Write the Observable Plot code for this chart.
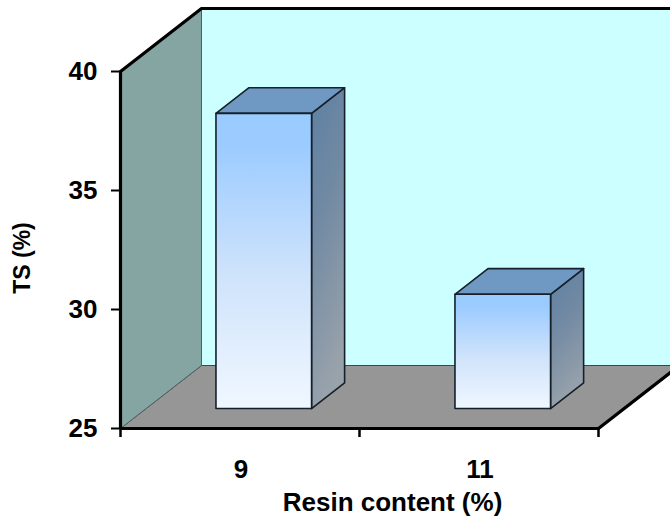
<!DOCTYPE html>
<html>
<head>
<meta charset="utf-8">
<style>html,body{margin:0;padding:0;background:#fff}svg{display:block}</style>
<script src="https://cdn.jsdelivr.net/npm/d3@7"></script>
<script src="https://cdn.jsdelivr.net/npm/@observablehq/plot@0.6"></script>
</head>
<body>
<div id="chart"></div>
<script>
const categories = ["9", "11"];
const tsValues = [37.4, 29.8];
const yTicks = [25, 30, 35, 40];
const xBoundaries = [0, 1, 2];
const barInset = [0.292, 0.692];
const barDepth = [0.317, 0.725];
const yLabel = "TS (%)";
const xLabel = "Resin content (%)";

const depthX = 81 / 239;      // one unit of depth, in category units
const depthY = 63 / 23.8;     // one unit of depth, in % units
const font = "'Liberation Sans', Arial, sans-serif";

const P = (c, v, d = 0) => ({x: c + d * depthX, y: v + d * depthY});
const poly = (...pts) => [...pts, pts[0]];

const backWall = poly(P(0, 25, 1), P(2, 25, 1), P(2, 40, 1), P(0, 40, 1));
const sideWall = poly(P(0, 25, 0), P(0, 25, 1), P(0, 40, 1), P(0, 40, 0));
const floor = poly(P(0, 25, 0), P(2, 25, 0), P(2, 25, 1), P(0, 25, 1));

const face = (o) => ({curve: "linear", x: "x", y: "y", ...o});
const barMarks = tsValues.flatMap((v, i) => {
  const l = i + barInset[0], r = i + barInset[1], f = barDepth[0], b = barDepth[1];
  const front = poly(P(l, 25, f), P(r, 25, f), P(r, v, f), P(l, v, f));
  const side = poly(P(r, 25, f), P(r, 25, b), P(r, v, b), P(r, v, f));
  const top = poly(P(l, v, f), P(r, v, f), P(r, v, b), P(l, v, b));
  return [
    Plot.line(side, face({fill: `url(#side${i})`, stroke: "#15202a", strokeWidth: 1.6})),
    Plot.line(top, face({fill: "#6f99c2", stroke: "#15202a", strokeWidth: 1.6})),
    Plot.line(front, face({fill: `url(#front${i})`, stroke: "#15202a", strokeWidth: 1.6}))
  ];
});

const defs = () => {
  const ns = "http://www.w3.org/2000/svg";
  const d = document.createElementNS(ns, "defs");
  const grad = (id, x2, y2, stops) => {
    const g = document.createElementNS(ns, "linearGradient");
    g.setAttribute("id", id);
    g.setAttribute("x1", "0"); g.setAttribute("y1", "0");
    g.setAttribute("x2", x2); g.setAttribute("y2", y2);
    stops.forEach(([o, c]) => {
      const s = document.createElementNS(ns, "stop");
      s.setAttribute("offset", o); s.setAttribute("stop-color", c);
      g.appendChild(s);
    });
    d.appendChild(g);
  };
  tsValues.forEach((_, i) => {
    grad(`front${i}`, "0", "1", [[0, "#99ccff"], [0.1, "#9bcbff"], [0.55, "#cfe3fb"], [1, "#f0f7ff"]]);
    grad(`side${i}`, "0.25", "1", [[0, "#5d80a3"], [0.45, "#728aa3"], [1, "#98a2ab"]]);
  });
  return d;
};

const tickStyle = {fontFamily: font, fontWeight: "bold", fill: "#000"};

const chart = Plot.plot({
  width: 670,
  height: 519,
  marginLeft: 120,
  marginRight: 72,
  marginTop: 71,
  marginBottom: 91,
  style: {background: "#fff", fontFamily: font},
  x: {type: "linear", domain: [0, 2]},
  y: {type: "linear", domain: [25, 40]},
  marks: [
    defs,
    Plot.line(backWall, face({fill: "#ccffff", stroke: "#555", strokeWidth: 1})),
    Plot.line(floor, face({fill: "#969696", stroke: "#444", strokeWidth: 1})),
    Plot.line(sideWall, face({fill: "#85a5a3", stroke: "#4c5f5e", strokeWidth: 1})),
    Plot.line([P(0, 40, 0), P(0, 40, 1), P(2, 40, 1)], face({stroke: "#000", strokeWidth: 3.2})),
    Plot.line([P(2, 25, 0), P(2, 25, 1)], face({stroke: "#000", strokeWidth: 3.2})),
    ...barMarks,
    Plot.ruleX([0], {y1: 25, y2: 40, stroke: "#000", strokeWidth: 3.2}),
    Plot.ruleY([25], {x1: 0, x2: 2, stroke: "#000", strokeWidth: 3.2}),
    Plot.axisY({ticks: yTicks, tickSize: 9, tickPadding: 14, strokeWidth: 2, stroke: "#000", label: null,
      fontSize: 26, ...tickStyle, style: {letterSpacing: "1.5px"}}),
    Plot.axisX({ticks: xBoundaries, tickSize: 9, strokeWidth: 2.5, stroke: "#000", tickFormat: () => "", label: null}),
    Plot.axisX({ticks: [0.5, 1.5], tickSize: 0, dx: 1, tickPadding: 31, tickFormat: (d) => categories[Math.floor(d)], label: null,
      fontSize: 26, ...tickStyle, style: {letterSpacing: "1.5px"}}),
    Plot.text([xLabel], {frameAnchor: "bottom", dx: 33, dy: 82, fontSize: 26, ...tickStyle}),
    Plot.text([yLabel], {frameAnchor: "left", textAnchor: "middle", rotate: -90, dx: -98, dy: 8, fontSize: 23, ...tickStyle})
  ]
});
document.getElementById("chart").appendChild(chart);
</script>
</body>
</html>
